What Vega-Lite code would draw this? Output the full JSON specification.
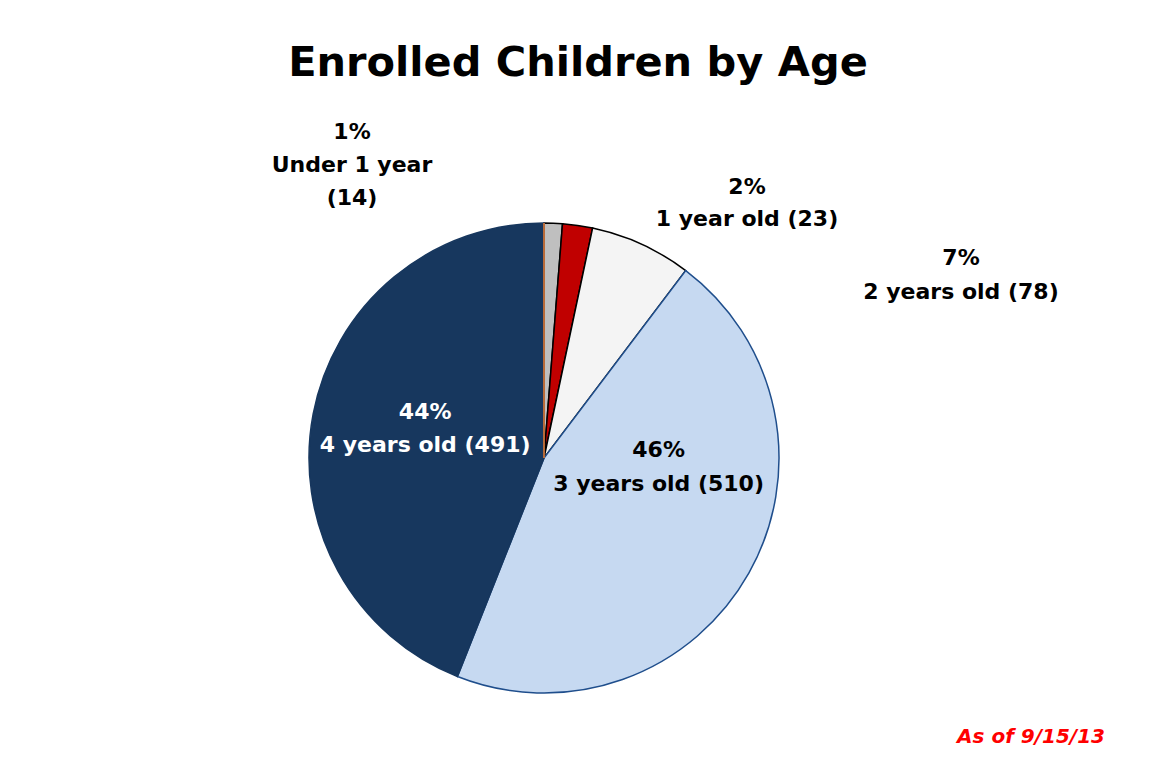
{
  "$schema": "https://vega.github.io/schema/vega-lite/v6.json",
  "width": 472,
  "height": 470,
  "autosize": "none",
  "padding": {"left": 308, "top": 223, "right": 376, "bottom": 74},
  "background": "white",
  "config": {"view": {"stroke": null}, "font": "DejaVu Sans"},
  "title": {
    "text": "Enrolled Children by Age",
    "fontSize": 41.5,
    "fontWeight": "bold",
    "font": "DejaVu Sans",
    "color": "black",
    "anchor": "middle",
    "frame": "group",
    "baseline": "alphabetic",
    "offset": 4,
    "dx": 34
  },
  "data": {
    "values": [
      {"age": "Under 1 year", "count": 14, "rank": 1, "label": "1%\nUnder 1 year\n(14)"},
      {"age": "1 year old", "count": 23, "rank": 2, "label": "2%\n1 year old (23)"},
      {"age": "2 years old", "count": 78, "rank": 3, "label": "7%\n2 years old (78)"},
      {"age": "3 years old", "count": 510, "rank": 4, "label": "46%\n3 years old (510)"},
      {"age": "4 years old", "count": 491, "rank": 5, "label": "44%\n4 years old (491)"},
      {"age": "Other", "count": 0, "rank": 6, "label": ""}
    ]
  },
  "layer": [
    {
      "mark": {"type": "arc", "strokeWidth": 1.5},
      "encoding": {
        "theta": {"field": "count", "type": "quantitative", "stack": true},
        "order": {"field": "rank", "type": "quantitative"},
        "color": {
          "field": "age", "type": "nominal", "legend": null,
          "scale": {
            "domain": ["Under 1 year", "1 year old", "2 years old", "3 years old", "4 years old", "Other"],
            "range": ["#bfbfbf", "#c00000", "#f4f4f4", "#c6d9f1", "#17375e", "#ed7d31"]
          }
        },
        "stroke": {
          "field": "age", "type": "nominal", "legend": null,
          "scale": {
            "domain": ["Under 1 year", "1 year old", "2 years old", "3 years old", "4 years old", "Other"],
            "range": ["#000000", "#000000", "#000000", "#1f4e8c", "#17375e", "#ed7d31"]
          }
        }
      }
    },
    {
      "mark": {"type": "text", "lineBreak": "\n", "fontSize": 22, "fontWeight": "bold", "lineHeight": 33, "color": "white", "align": "center", "baseline": "middle", "dx": 2, "dy": -23},
      "encoding": {
        "theta": {"field": "count", "type": "quantitative", "stack": true},
        "order": {"field": "rank", "type": "quantitative"},
        "radius": {"value": 123},
        "text": {"condition": {"test": "datum.rank === 5", "field": "label"}, "value": ""}
      }
    },
    {
      "mark": {"type": "text", "lineBreak": "\n", "fontSize": 22, "fontWeight": "bold", "lineHeight": 34, "color": "black", "align": "center", "baseline": "middle", "dx": 10, "dy": -67},
      "encoding": {
        "theta": {"field": "count", "type": "quantitative", "stack": true},
        "order": {"field": "rank", "type": "quantitative"},
        "radius": {"value": 120},
        "text": {"condition": {"test": "datum.rank === 4", "field": "label"}, "value": ""}
      }
    },
    {
      "transform": [{"filter": "datum.rank === 1"}],
      "mark": {"type": "text", "lineBreak": "\n", "fontSize": 22, "fontWeight": "bold", "lineHeight": 33, "color": "black", "align": "center", "baseline": "middle", "dx": -192, "dy": -326},
      "encoding": {"text": {"field": "label"}}
    },
    {
      "transform": [{"filter": "datum.rank === 2"}],
      "mark": {"type": "text", "lineBreak": "\n", "fontSize": 22, "fontWeight": "bold", "lineHeight": 32, "color": "black", "align": "center", "baseline": "middle", "dx": 203, "dy": -271},
      "encoding": {"text": {"field": "label"}}
    },
    {
      "transform": [{"filter": "datum.rank === 3"}],
      "mark": {"type": "text", "lineBreak": "\n", "fontSize": 22, "fontWeight": "bold", "lineHeight": 34, "color": "black", "align": "center", "baseline": "middle", "dx": 417, "dy": -200},
      "encoding": {"text": {"field": "label"}}
    },
    {
      "data": {"values": [{"note": "As of 9/15/13"}]},
      "mark": {"type": "text", "fontSize": 20, "fontWeight": "bold", "fontStyle": "italic", "color": "#ff0000", "align": "right", "baseline": "alphabetic", "dx": 561, "dy": 285},
      "encoding": {"text": {"field": "note"}}
    }
  ]
}
